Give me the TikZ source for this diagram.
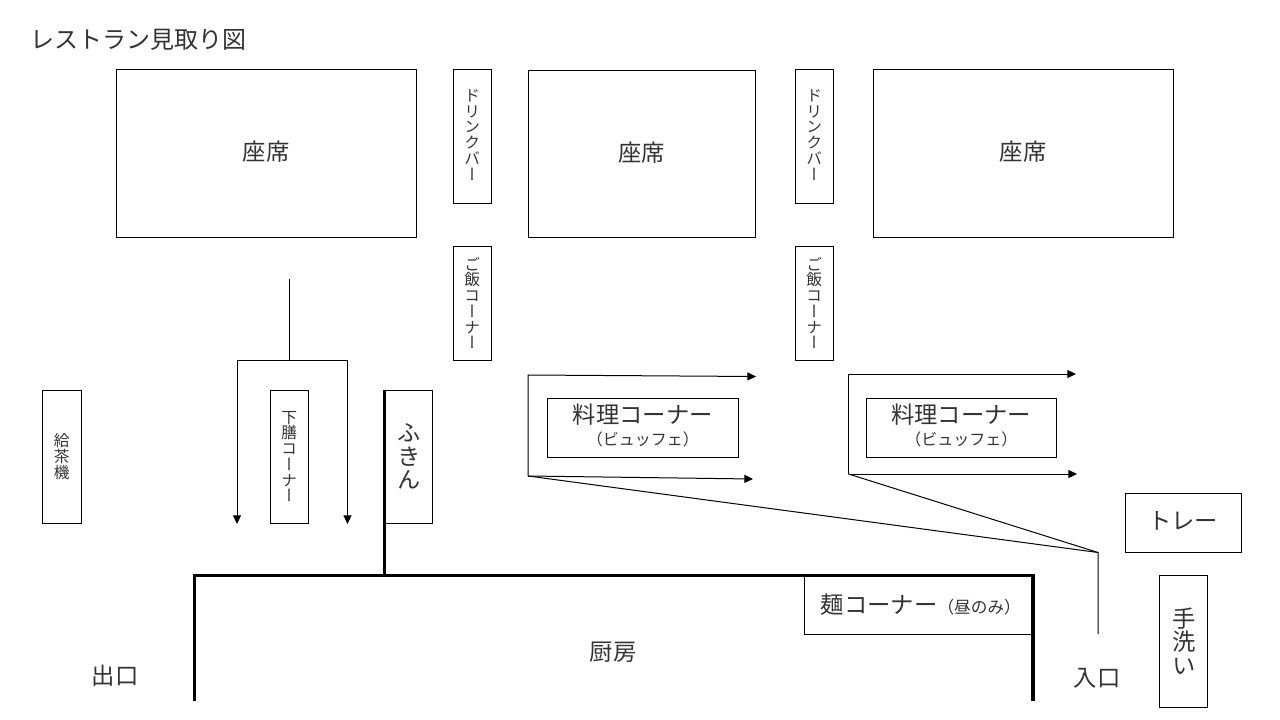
\documentclass[tikz,border=0pt]{standalone}
\usepackage{fontspec}
\usepackage{amsmath}
\usetikzlibrary{arrows.meta}
\setmainfont{Noto Sans CJK JP}
\newfontfamily\jpvert[RawFeature={+vert}]{Noto Sans CJK JP}
\newcommand{\jpsize}[1]{\fontsize{#1}{#1}\selectfont\lineskiplimit=-20pt\relax}
\tikzset{
    box/.style={draw, line width=0.75pt, inner sep=0pt, align=center, text=black!80},
    size/.style 2 args={minimum width=#1*0.75pt, minimum height=#2*0.75pt},
    label/.style={inner sep=0pt, align=center, text=black!80, font=\jpsize{17.5}},
    small/.style={box, font=\jpvert\jpsize{11.8}},
    big/.style={box, font=\jpvert\jpsize{17.5}},
    seat/.style={box, font=\jpsize{17.5}, text depth=4.5pt},
    route/.style={line width=0.75pt},
    wall/.style={line width=2.4pt},
    tip/.style={-{Triangle[length=6.5pt,width=6pt]}}
}
\begin{document}
\begin{tikzpicture}[x=0.75pt, y=-0.75pt]
    \useasboundingbox (0,0) rectangle (1280,720);
    \node[label, anchor=west, font=\jpsize{18}] (title) at (30,40) {レストラン見取り図};
    % seats
    \node[seat, size={300}{168}] (seatA) at (266,153.75) {座席};
    \node[seat, size={227}{167}] (seatB) at (641.5,154.25) {座席};
    \node[seat, size={300}{168}] (seatC) at (1023,153.75) {座席};
    % narrow counters
    \node[small, size={38.5}{133.5}, text depth=2.5pt] (drinkA) at (472.25,136.5) {ド\\リ\\ン\\ク\\バ\\ー};
    \node[small, size={38.5}{133.5}, text depth=2.5pt] (drinkB) at (814.25,136.5) {ド\\リ\\ン\\ク\\バ\\ー};
    \node[small, size={38.5}{114}] (riceA) at (472.25,303) {ご\\飯\\コ\\ー\\ナ\\ー};
    \node[small, size={38.5}{114}] (riceB) at (814.25,303) {ご\\飯\\コ\\ー\\ナ\\ー};
    \node[small, size={39.5}{133}] (tea) at (61.75,456.5) {給\\茶\\機};
    \node[small, size={38.5}{133}] (tray) at (289.25,456.5) {下\\膳\\コ\\ー\\ナ\\ー};
    \node[big, size={48}{133}] (cloth) at (408.5,456.5) {\hspace{1.5pt}ふ\\\hspace{1.5pt}き\\\hspace{1.5pt}ん};
    \node[big, size={48}{132}] (wash) at (1183,641) {\hspace{1.5pt}手\\\hspace{1.5pt}洗\\\hspace{1.5pt}い};
    \node[box, size={116}{59}, font=\jpsize{17.5}, text depth=3.5pt] (plate) at (1183,522.5) {トレー};
    % buffet
    \node[box, size={191}{59}, text depth=5pt] (foodA) at (642.75,428) {{\jpsize{17.5}料理コーナー}\\[4pt]{\jpsize{12}（ビュッフェ）}};
    \node[box, size={190}{59}, text depth=5pt] (foodB) at (961.25,428) {{\jpsize{17.5}料理コーナー}\\[4pt]{\jpsize{12}（ビュッフェ）}};
    \node[box, size={229}{59}] (noodle) at (918.5,604.5) {\hspace{3.5pt}{\jpsize{17.5}麺コーナー}{\jpsize{12.5}（昼のみ）}};
    % kitchen and doors
    \node[label] (kitchen) at (613,652) {厨房};
    \node[label] (exit) at (115,676) {出口};
    \node[label] (entry) at (1097,678) {入口};
    % walls
    \coordinate (wallA) at (194.5,701);
    \coordinate (wallB) at (194.5,575.5);
    \coordinate (wallC) at (1033,575.5);
    \coordinate (wallD) at (1033,701);
    \coordinate (wallE) at (384.5,575.5);
    \coordinate (wallF) at (384.5,390);
    \draw[wall] (wallA) -- (wallB) -- (wallC) -- (wallD);
    \draw[wall] (wallE) -- (wallF);
    % way out
    \coordinate (outS) at (289,279);
    \coordinate (outM) at (289,360);
    \coordinate (outL) at (237,360);
    \coordinate (outR) at (347.5,360);
    \coordinate (outLE) at (237,524);
    \coordinate (outRE) at (347.5,524);
    \draw[route] (outS) -- (outM);
    \draw[route, tip] (outM) -- (outL) -- (outLE);
    \draw[route, tip] (outM) -- (outR) -- (outRE);
    % way in
    \coordinate (inS) at (1098,634);
    \coordinate (inM) at (1098,552.5);
    \coordinate (lineA) at (528,476);
    \coordinate (lineB) at (848.5,474);
    \coordinate (lineAT) at (528,375);
    \coordinate (lineBT) at (848.5,374);
    \coordinate (endAT) at (756,376.5);
    \coordinate (endBT) at (1076,374);
    \coordinate (endAD) at (753,479);
    \coordinate (endBD) at (1077,474);
    \draw[route] (inS) -- (inM) -- (lineA);
    \draw[route] (inM) -- (lineB);
    \draw[route, tip] (lineA) -- (lineAT) -- (endAT);
    \draw[route, tip] (lineA) -- (endAD);
    \draw[route, tip] (lineB) -- (lineBT) -- (endBT);
    \draw[route, tip] (lineB) -- (endBD);
\end{tikzpicture}
\end{document}
